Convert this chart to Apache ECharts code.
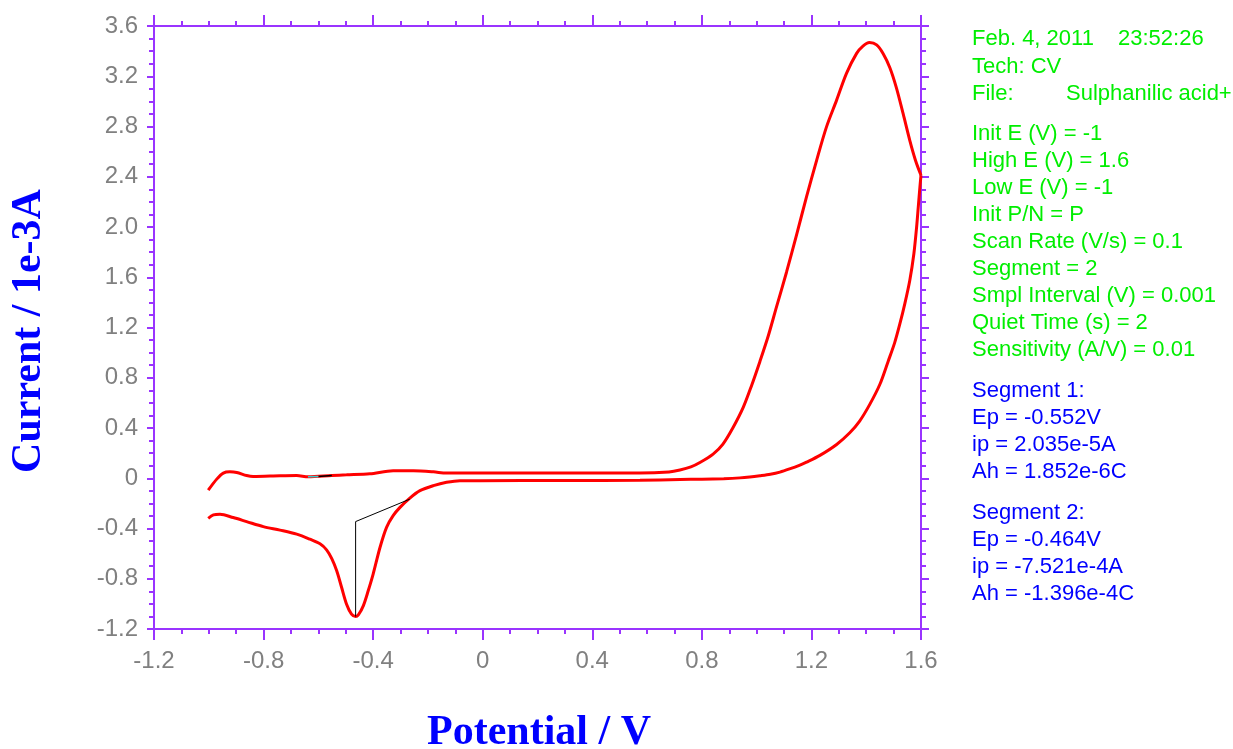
<!DOCTYPE html>
<html>
<head>
<meta charset="utf-8">
<script src="https://cdn.jsdelivr.net/npm/echarts@6/dist/echarts.min.js"></script>
<style>
html,body{margin:0;padding:0;background:#fff;}
#chart{width:1233px;height:749px;}
</style>
</head>
<body>
<div id="chart"></div>
<script>
// Segment 1: forward scan -1 V -> 1.6 V (potential V, current 1e-3 A)
const seg1E = [-1.002,-0.971,-0.947,-0.923,-0.898,-0.862,-0.838,-0.740,-0.679,-0.637,-0.551,-0.497,-0.412,-0.327,-0.253,-0.180,-0.132,-0.010,0.300,0.574,0.680,0.720,0.760,0.793,0.841,0.877,0.914,0.951,0.981,1.012,1.042,1.072,1.109,1.146,1.182,1.219,1.255,1.292,1.328,1.365,1.388,1.412,1.438,1.462,1.486,1.510,1.535,1.559,1.580,1.600];
const seg1I = [-0.095,-0.007,0.041,0.051,0.046,0.022,0.014,0.020,0.022,0.011,0.022,0.027,0.035,0.059,0.059,0.051,0.041,0.041,0.041,0.041,0.050,0.065,0.090,0.125,0.192,0.272,0.404,0.564,0.735,0.930,1.130,1.360,1.640,1.940,2.239,2.531,2.797,3.010,3.223,3.382,3.440,3.468,3.450,3.380,3.270,3.110,2.900,2.690,2.530,2.412];
// Segment 2: reverse scan 1.6 V -> -1 V
const seg2E = [1.600,1.596,1.590,1.584,1.574,1.559,1.541,1.523,1.504,1.480,1.450,1.413,1.376,1.340,1.292,1.231,1.182,1.158,1.120,1.085,1.050,1.012,0.975,0.939,0.880,0.800,0.720,0.574,0.300,-0.010,-0.083,-0.132,-0.180,-0.229,-0.266,-0.302,-0.327,-0.351,-0.375,-0.400,-0.418,-0.436,-0.454,-0.464,-0.479,-0.497,-0.515,-0.533,-0.551,-0.570,-0.594,-0.631,-0.679,-0.740,-0.801,-0.862,-0.911,-0.959,-0.983,-1.002];
const seg2I = [2.412,2.318,2.159,2.000,1.787,1.574,1.390,1.230,1.080,0.930,0.748,0.588,0.455,0.362,0.269,0.182,0.128,0.105,0.074,0.049,0.032,0.020,0.010,0.003,-0.003,-0.007,-0.010,-0.016,-0.018,-0.019,-0.019,-0.032,-0.059,-0.099,-0.158,-0.232,-0.298,-0.391,-0.551,-0.763,-0.896,-1.016,-1.088,-1.101,-1.082,-1.003,-0.870,-0.737,-0.640,-0.570,-0.522,-0.485,-0.445,-0.413,-0.385,-0.345,-0.313,-0.287,-0.292,-0.319];
// Peak baselines
const base2E = [-0.464,-0.464,-0.266];
const base2I = [-1.101,-0.345,-0.166];
const base1E = [-0.600,-0.551];
const base1I = [0.013,0.022];
const base1cyanE = [-0.638,-0.600];
const base1cyanI = [0.011,0.013];
// Axis ticks
const xMin = -1.2, xMax = 1.6, xStep = 0.4;
const yMin = -1.2, yMax = 3.6, yStep = 0.4;
// Annotation text
const dateText = 'Feb. 4, 2011';
const timeText = '23:52:26';
const techText = 'Tech: CV';
const fileLabel = 'File:';
const fileName = 'Sulphanilic acid+';
const infoGreen2 = ['Init E (V) = -1','High E (V) = 1.6','Low E (V) = -1','Init P/N = P','Scan Rate (V/s) = 0.1','Segment = 2','Smpl Interval (V) = 0.001','Quiet Time (s) = 2','Sensitivity (A/V) = 0.01'];
const infoSeg1 = ['Segment 1:','Ep = -0.552V','ip = 2.035e-5A','Ah = 1.852e-6C'];
const infoSeg2 = ['Segment 2:','Ep = -0.464V','ip = -7.521e-4A','Ah = -1.396e-4C'];
const xTitle = 'Potential / V';
const yTitle = 'Current / 1e-3A';

const zip = (a,b) => a.map((v,i)=>[v,b[i]]);
const AX = '#9a34ff';
const fmt = v => (Math.abs(v) < 1e-9 ? '0' : v.toFixed(1));
const LBL = {color:'#808080', fontSize:24, fontFamily:'"Liberation Sans", Arial, sans-serif', formatter:fmt};

function xAx(pos, show, len){
  return {type:'value', position:pos, min:xMin, max:xMax, interval:xStep,
    axisLine:{show:true, onZero:false, lineStyle:{color:AX, width:2}},
    axisTick:{show:true, inside:false, length:len, lineStyle:{color:AX, width:2}},
    minorTick:{show:true, splitNumber:4, length:5, lineStyle:{color:AX, width:2}},
    splitLine:{show:false},
    axisLabel:Object.assign({show:show, margin:20}, LBL)};
}
function yAx(pos, show, len){
  return {type:'value', position:pos, min:yMin, max:yMax, interval:yStep,
    axisLine:{show:true, onZero:false, lineStyle:{color:AX, width:2}},
    axisTick:{show:true, inside:false, length:len, lineStyle:{color:AX, width:2}},
    minorTick:{show:true, splitNumber:4, length:5, lineStyle:{color:AX, width:2}},
    splitLine:{show:false},
    axisLabel:Object.assign({show:show, margin:16}, LBL)};
}

const txtFont = '"Liberation Sans", Arial, sans-serif';
const GREEN = '#00ee00', BLUE = '#0000ff';
const graphics = [];
function addText(x,y,text,color){
  graphics.push({type:'text', x:x, y:y, style:{text:text, fill:color, font:'22px '+txtFont, textAlign:'left', textVerticalAlign:'middle'}});
}
addText(972, 39, dateText, GREEN);
addText(1118, 39, timeText, GREEN);
addText(972, 66.5, techText, GREEN);
addText(972, 93.5, fileLabel, GREEN);
addText(1066, 93.5, fileName, GREEN);
infoGreen2.forEach((t,i)=>addText(972, 133.5+27.1*i, t, GREEN));
infoSeg1.forEach((t,i)=>addText(972, 390.5+27.1*i, t, BLUE));
infoSeg2.forEach((t,i)=>addText(972, 513+27.1*i, t, BLUE));
graphics.push({type:'text', x:539, y:733, style:{text:xTitle, fill:BLUE, font:'bold 42px "Liberation Serif", "Times New Roman", serif', textAlign:'center', textVerticalAlign:'middle'}});
graphics.push({type:'text', x:29, y:331, rotation:Math.PI/2, style:{text:yTitle, fill:BLUE, font:'bold 42px "Liberation Serif", "Times New Roman", serif', textAlign:'center', textVerticalAlign:'middle'}});

const chart = echarts.init(document.getElementById('chart'), null, {renderer:'canvas'});
chart.setOption({
  backgroundColor:'#ffffff',
  animation:false,
  grid:{left:154, right:312, top:26, bottom:120, containLabel:false},
  xAxis:[xAx('bottom', true, 11), xAx('top', false, 11)],
  yAxis:[yAx('left', true, 7), yAx('right', false, 8)],
  series:[
    {type:'line', name:'Segment 1', data:zip(seg1E,seg1I), showSymbol:false, smooth:0.3, clip:false, lineStyle:{color:'#ff0000', width:3}, z:2},
    {type:'line', name:'Segment 2', data:zip(seg2E,seg2I), showSymbol:false, smooth:0.3, clip:false, lineStyle:{color:'#ff0000', width:3}, z:2},
    {type:'line', name:'Baseline 2', data:zip(base2E,base2I), showSymbol:false, lineStyle:{color:'#000000', width:1}, z:3},
    {type:'line', name:'Baseline 1', data:zip(base1E,base1I), showSymbol:false, lineStyle:{color:'#000000', width:1.5}, z:3},
    {type:'line', name:'Baseline 1b', data:zip(base1cyanE,base1cyanI), showSymbol:false, lineStyle:{color:'#33cccc', width:1.5}, z:3}
  ],
  graphic:graphics
});
</script>
</body>
</html>
